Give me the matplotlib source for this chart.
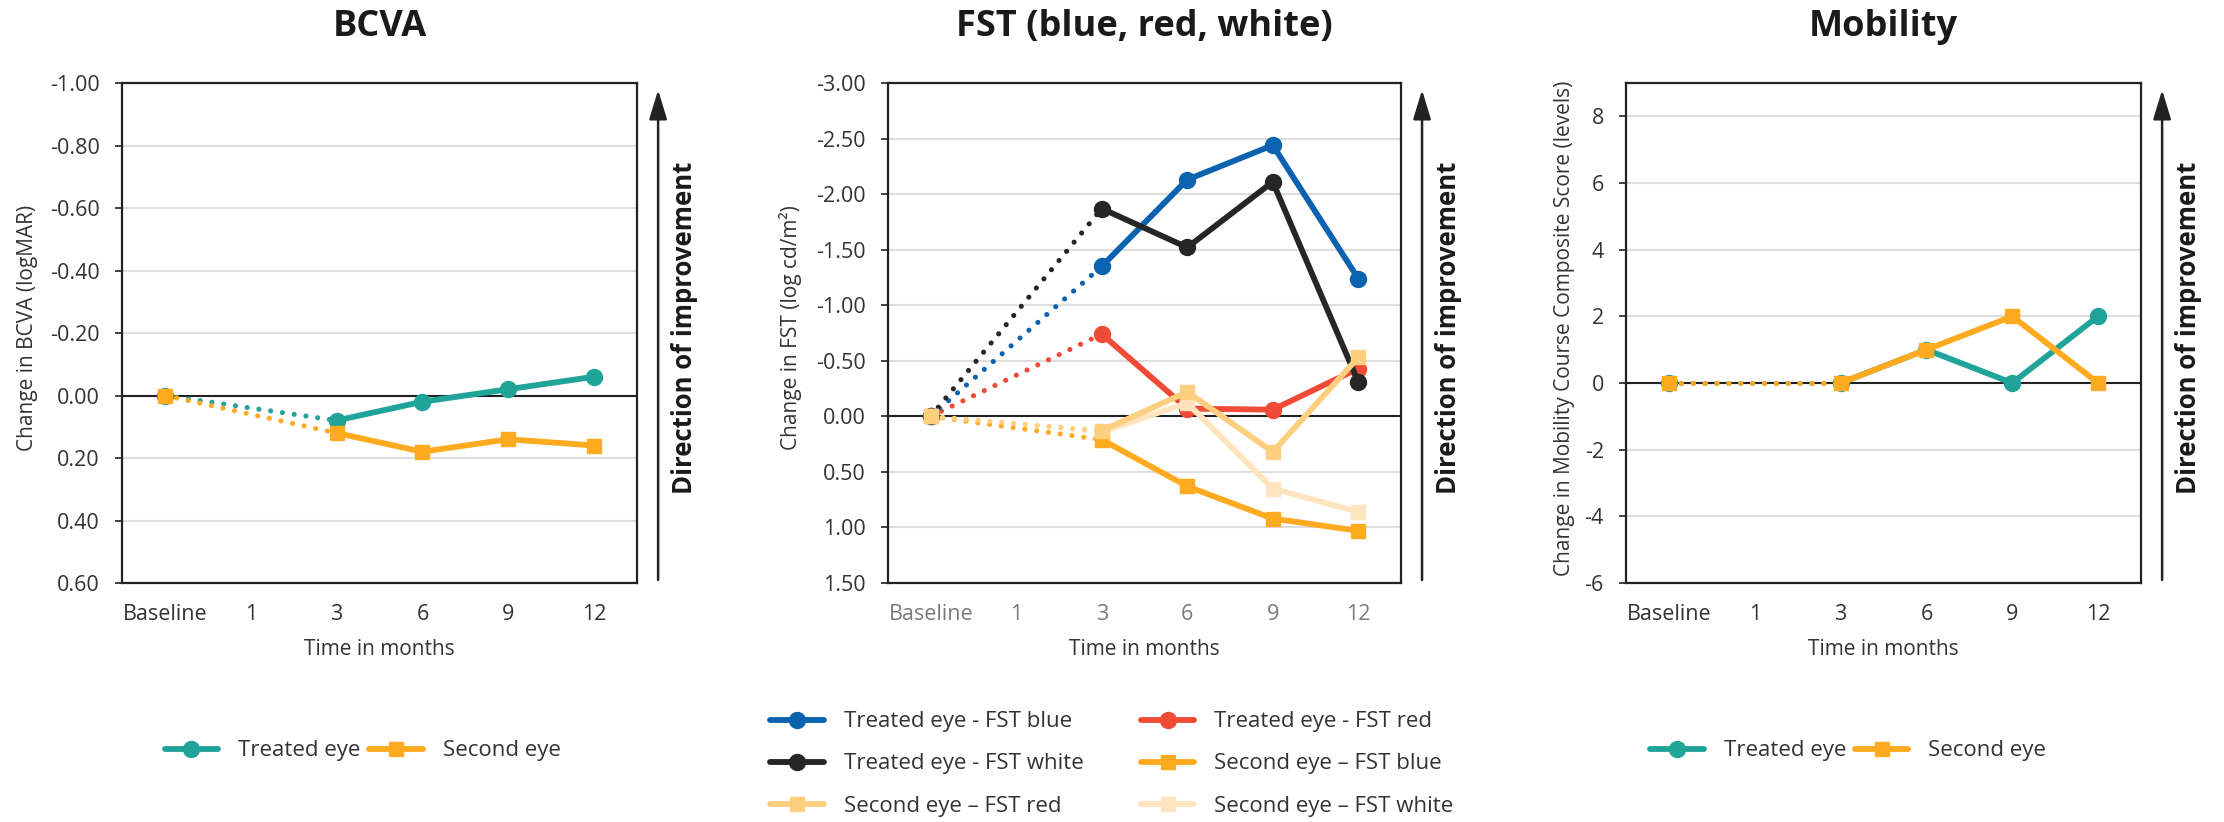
import matplotlib.pyplot as plt
from matplotlib.lines import Line2D

plt.rcParams['font.family'] = ['Open Sans', 'DejaVu Sans']

# categories on the x axis and the visits that have data
months = ["Baseline", "1", "3", "6", "9", "12"]
visits = ["Baseline", "3", "6", "9", "12"]

# BCVA change (logMAR)
bcva_treated = [0.00, 0.08, 0.02, -0.02, -0.06]
bcva_second = [0.00, 0.12, 0.18, 0.14, 0.16]
bcva_ticks = [-1.0, -0.8, -0.6, -0.4, -0.2, 0.0, 0.2, 0.4, 0.6]
bcva_labels = ["-1.00", "-0.80", "-0.60", "-0.40", "-0.20", "0.00", "0.20", "0.40", "0.60"]

# FST change (log cd/m2)
fst_treated_blue = [0.00, -1.35, -2.13, -2.44, -1.24]
fst_treated_white = [0.00, -1.87, -1.52, -2.11, -0.31]
fst_treated_red = [0.00, -0.74, -0.07, -0.06, -0.43]
fst_second_blue = [0.00, 0.21, 0.63, 0.92, 1.03]
fst_second_red = [0.00, 0.13, -0.22, 0.32, -0.53]
fst_second_white = [0.00, 0.14, -0.12, 0.65, 0.86]
fst_ticks = [-3.0, -2.5, -2.0, -1.5, -1.0, -0.5, 0.0, 0.5, 1.0, 1.5]
fst_labels = ["-3.00", "-2.50", "-2.00", "-1.50", "-1.00", "-0.50", "0.00", "0.50", "1.00", "1.50"]

# mobility course composite score change (levels)
mob_treated = [0, 0, 1, 0, 2]
mob_second = [0, 0, 1, 2, 0]
mob_ticks = [-6, -4, -2, 0, 2, 4, 6, 8]
mob_labels = ["-6", "-4", "-2", "0", "2", "4", "6", "8"]

TEAL = '#20a398'
ORANGE = '#ffaa1f'
BLUE = '#0b63b0'
RED = '#ef4b36'
BLACK = '#262626'
LORANGE = '#ffcf80'
LLORANGE = '#ffe4bf'
DARK = '#222222'
TXT = '#333333'

xs = [months.index(v) for v in visits]

fig = plt.figure(figsize=(22.24, 8.22), dpi=100)


def draw_series(ax, y, color, marker, ms, z):
    # dotted from baseline to month 3, solid afterwards
    ax.plot(xs[:2], y[:2], color=color, lw=3.7, ls=(0, (0.01, 2.3)),
            dash_capstyle='round', zorder=z)
    ax.plot(xs[1:], y[1:], color=color, lw=4.2, marker=marker, ms=ms,
            solid_capstyle='round', zorder=z + 0.1)
    ax.plot(xs[:1], y[:1], color=color, marker=marker, ms=ms, ls='none',
            zorder=z + 0.1)


def style_axes(ax, title, ylim, ticks, labels, ylabel, label_x, xcolor):
    ax.set_xlim(-0.5, 5.5)
    ax.set_ylim(*ylim)
    ax.set_xticks(range(len(months)))
    ax.set_xticklabels(months)
    ax.set_yticks(ticks)
    ax.set_yticklabels(labels)
    ax.grid(axis='y', color='#dedede', lw=1.5)
    ax.set_axisbelow(True)
    ax.axhline(0, color=DARK, lw=1.5, zorder=2)
    for s in ax.spines.values():
        s.set_color(DARK)
        s.set_linewidth(1.6)
    ax.tick_params(axis='y', length=5, width=1.2, color=DARK, pad=11,
                   labelsize=15.5, labelcolor=TXT)
    ax.tick_params(axis='x', length=0, pad=15, labelsize=15.5, labelcolor=xcolor)
    ax.set_xlabel('Time in months', fontsize=15, labelpad=10, color=TXT)
    ax.set_ylabel(ylabel, fontsize=15, color=TXT)
    ax.yaxis.set_label_coords(label_x, 0.51)
    ax.set_title(title, fontsize=26, fontweight='bold', pad=34, color='#1a1a1a')

    # direction of improvement arrow to the right of the box
    ax.annotate('', xy=(1.041, 0.986), xytext=(1.041, 0.006),
                xycoords='axes fraction',
                arrowprops=dict(arrowstyle='-|>,head_width=0.55,head_length=1.8',
                                lw=1.8, color=DARK, shrinkA=0, shrinkB=0))
    ax.text(1.093, 0.51, 'Direction of improvement', transform=ax.transAxes,
            rotation=90, fontsize=18.5, fontweight='bold', color='#1a1a1a',
            ha='center', va='center')


def handle(color, marker, ms):
    return Line2D([], [], color=color, lw=4.2, marker=marker, ms=ms,
                  solid_capstyle='round')


# BCVA
ax1 = fig.add_axes([0.05486, 0.29075, 0.23156, 0.60827])
draw_series(ax1, bcva_treated, TEAL, 'o', 11.5, 3)
draw_series(ax1, bcva_second, ORANGE, 's', 10.5, 4)
style_axes(ax1, 'BCVA', (0.6, -1.0), bcva_ticks, bcva_labels,
           'Change in BCVA (logMAR)', -0.163, TXT)

# FST
ax2 = fig.add_axes([0.39928, 0.29075, 0.23067, 0.60827])
draw_series(ax2, fst_treated_red, RED, 'o', 11.5, 3)
draw_series(ax2, fst_treated_blue, BLUE, 'o', 11.5, 3.2)
draw_series(ax2, fst_treated_white, BLACK, 'o', 11.5, 3.4)
draw_series(ax2, fst_second_white, LLORANGE, 's', 10.5, 4)
draw_series(ax2, fst_second_blue, ORANGE, 's', 10.5, 4.2)
draw_series(ax2, fst_second_red, LORANGE, 's', 10.5, 4.4)
style_axes(ax2, 'FST (blue, red, white)', (1.5, -3.0), fst_ticks, fst_labels,
           'Change in FST (log cd/m²)', -0.168, '#7a7a7a')

# Mobility
ax3 = fig.add_axes([0.73112, 0.29075, 0.23156, 0.60827])
draw_series(ax3, mob_treated, TEAL, 'o', 11.5, 3)
draw_series(ax3, mob_second, ORANGE, 's', 10.5, 4)
style_axes(ax3, 'Mobility', (-6, 9), mob_ticks, mob_labels,
           'Change in Mobility Course Composite Score (levels)', -0.099, TXT)

leg_kw = dict(frameon=False, fontsize=16, handlelength=2.4, handletextpad=0.9,
              borderpad=0, labelcolor=TXT)

fig.legend([handle(TEAL, 'o', 11.5), handle(ORANGE, 's', 10.5)],
           ['Treated eye', 'Second eye'], loc='center',
           bbox_to_anchor=(0.163, 0.0864), ncol=2, columnspacing=0.4, **leg_kw)

fig.legend([handle(BLUE, 'o', 11.5), handle(BLACK, 'o', 11.5), handle(LORANGE, 's', 10.5),
            handle(RED, 'o', 11.5), handle(ORANGE, 's', 10.5), handle(LLORANGE, 's', 10.5)],
           ['Treated eye - FST blue', 'Treated eye - FST white', 'Second eye – FST red',
            'Treated eye - FST red', 'Second eye – FST blue', 'Second eye – FST white'],
           loc='center', bbox_to_anchor=(0.5, 0.0706), ncol=2, columnspacing=2.6,
           labelspacing=0.95, **leg_kw)

fig.legend([handle(TEAL, 'o', 11.5), handle(ORANGE, 's', 10.5)],
           ['Treated eye', 'Second eye'], loc='center',
           bbox_to_anchor=(0.831, 0.0864), ncol=2, columnspacing=0.4, **leg_kw)

fig.savefig('out.png', dpi=100)
